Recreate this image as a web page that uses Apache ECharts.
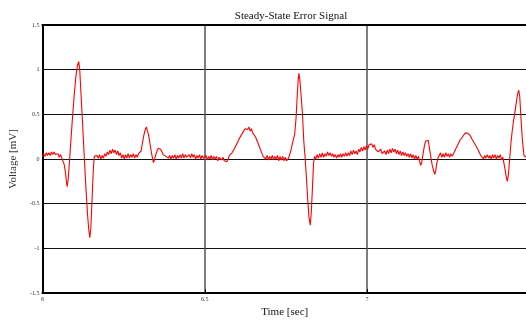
<!DOCTYPE html>
<html>
<head>
<meta charset="utf-8">
<script src="https://cdn.jsdelivr.net/npm/echarts@6/dist/echarts.min.js"></script>
<style>
html,body{margin:0;padding:0;background:#fff;overflow:hidden;width:526px;height:323px;}
#chart{width:530px;height:323px;}
</style>
</head>
<body>
<div id="chart"></div>
<script>
var titleText = 'Steady-State Error Signal';
var xName = 'Time [sec]';
var yName = 'Voltage [mV]';
var xTicks = [6, 6.5, 7];
var yTicks = [-1.5, -1, -0.5, 0, 0.5, 1, 1.5];

var times = [
6.000,6.004,6.008,6.012,6.016,6.020,6.024,6.028,6.032,6.036,6.040,6.044,6.048,6.052,6.056,6.060,6.063,
6.067,6.071,6.074,6.076,6.079,6.083,6.088,6.093,6.098,6.103,6.108,6.112,6.115,6.119,6.124,6.129,6.134,6.139,6.143,6.146,6.149,6.153,6.157,6.160,
6.164,6.168,6.172,6.176,6.180,6.184,6.188,6.192,6.196,6.200,6.204,6.208,6.212,6.216,6.220,6.224,6.228,6.232,6.236,6.240,6.244,6.248,6.252,6.256,6.260,6.264,6.268,6.272,6.276,6.280,6.284,6.288,6.292,6.296,6.300,
6.304,6.308,6.312,6.316,6.320,6.323,6.327,6.331,6.335,6.339,6.342,6.345,6.349,6.353,6.357,6.361,6.364,6.368,6.372,6.376,6.380,6.384,
6.388,6.392,6.396,6.400,6.404,6.408,6.412,6.416,6.420,6.424,6.428,6.432,6.436,6.440,6.444,6.448,6.452,6.456,6.460,6.464,6.468,6.472,6.476,6.480,6.484,6.488,6.492,6.496,6.500,6.504,6.508,6.512,6.516,6.520,6.524,6.528,6.532,6.536,6.540,6.544,6.548,6.552,6.556,6.560,6.564,6.568,
6.572,6.576,6.580,6.584,6.588,6.592,6.596,6.600,6.604,6.608,6.612,6.616,6.620,6.624,6.628,6.632,6.636,6.640,6.644,6.648,6.652,6.656,6.660,6.664,6.668,6.672,6.676,6.680,6.684,
6.688,6.692,6.696,6.700,6.704,6.708,6.712,6.716,6.720,6.724,6.728,6.732,6.736,6.740,6.744,6.748,6.752,6.755,6.758,6.761,
6.765,6.769,6.773,6.777,6.781,6.785,6.788,6.790,6.793,6.797,6.801,6.805,6.809,6.813,6.817,6.821,6.825,6.828,6.832,6.835,6.838,
6.842,6.846,6.850,6.854,6.858,6.862,6.866,6.870,6.874,6.878,6.882,6.886,6.890,6.894,6.898,6.902,6.906,6.910,6.914,6.918,6.922,6.926,6.930,6.934,6.938,6.942,6.946,6.950,6.954,6.958,6.962,6.966,6.970,6.974,6.978,6.982,6.986,6.990,6.994,6.998,
7.002,7.006,7.010,7.014,7.018,7.022,7.026,7.030,7.034,7.038,7.042,7.046,7.050,7.054,7.058,7.062,7.066,7.070,7.074,7.078,7.082,7.086,7.090,7.094,7.098,7.102,7.106,7.110,7.114,7.118,7.122,7.126,7.130,7.134,7.138,7.142,7.146,7.150,7.154,7.158,7.162,7.165,
7.168,7.172,7.176,7.180,7.184,7.188,7.192,7.196,7.200,7.204,7.208,7.211,7.214,7.218,7.222,
7.226,7.230,7.234,7.238,7.242,7.246,7.250,7.254,7.258,7.262,7.266,
7.270,7.274,7.278,7.282,7.286,7.290,7.294,7.298,7.302,7.306,7.310,7.314,7.318,7.322,7.326,7.330,7.334,7.338,7.342,7.346,7.350,7.354,
7.358,7.362,7.366,7.370,7.374,7.378,7.382,7.386,7.390,7.394,7.398,7.402,7.406,7.410,7.414,7.418,
7.422,7.426,7.429,7.432,7.435,7.439,7.443,7.447,7.451,7.455,7.459,7.463,7.467,7.470,7.474,7.478,7.483,7.490
];

var volts = [
0.03,0.06,0.03,0.07,0.04,0.07,0.04,0.08,0.05,0.08,0.05,0.03,0.06,0.02,0.05,0.01,0.00,
-0.06,-0.15,-0.25,-0.31,-0.24,-0.05,0.22,0.48,0.72,0.92,1.05,1.09,1.00,0.72,0.38,0.02,-0.32,-0.62,-0.80,-0.88,-0.78,-0.45,-0.10,0.03,
0.01,0.04,0.01,0.05,0.00,0.04,0.01,0.06,0.03,0.08,0.05,0.10,0.06,0.11,0.07,0.10,0.05,0.09,0.04,0.07,0.01,0.05,0.00,0.05,0.01,0.06,0.01,0.05,0.02,0.06,0.01,0.05,0.02,0.06,0.04,
0.09,0.18,0.26,0.32,0.36,0.34,0.27,0.18,0.09,0.01,-0.04,-0.01,0.05,0.09,0.12,0.14,0.11,0.09,0.05,0.06,0.03,0.04,
0.01,0.04,0.00,0.04,0.01,0.05,0.00,0.04,0.01,0.05,0.01,0.06,0.01,0.05,0.02,0.00,0.05,0.01,0.06,0.02,0.05,0.00,0.04,0.01,0.05,0.00,0.04,0.01,0.00,0.04,-0.01,0.03,0.00,0.04,-0.01,0.03,0.00,0.03,-0.02,0.02,0.03,-0.01,0.02,-0.02,-0.01,-0.03,
0.00,0.04,0.04,0.07,0.08,0.12,0.14,0.18,0.20,0.24,0.25,0.29,0.30,0.34,0.36,0.33,0.36,0.31,0.34,0.29,0.30,0.25,0.25,0.18,0.17,0.10,0.09,0.03,0.04,
0.00,0.04,-0.01,0.03,0.00,0.04,-0.01,0.03,0.00,0.04,-0.02,0.03,-0.01,0.03,-0.02,0.02,-0.02,-0.03,0.01,0.03,
0.09,0.16,0.22,0.28,0.45,0.72,0.90,0.96,0.88,0.70,0.50,0.20,0.02,-0.20,-0.45,-0.65,-0.74,-0.60,-0.30,-0.05,0.03,
0.00,0.05,0.01,0.06,0.02,0.07,0.02,0.06,0.03,0.08,0.04,0.07,0.03,0.06,0.02,0.05,0.01,0.05,0.02,0.06,0.02,0.06,0.03,0.07,0.03,0.07,0.04,0.09,0.05,0.10,0.06,0.09,0.05,0.11,0.08,0.13,0.09,0.14,0.10,0.15,
0.11,0.16,0.17,0.17,0.13,0.16,0.11,0.12,0.08,0.09,0.11,0.06,0.07,0.09,0.05,0.10,0.06,0.11,0.07,0.12,0.08,0.11,0.06,0.10,0.05,0.09,0.04,0.08,0.04,0.07,0.03,0.06,0.02,0.06,0.01,0.05,0.00,0.04,0.00,0.03,-0.03,-0.07,
-0.04,0.05,0.14,0.20,0.22,0.21,0.12,0.03,-0.06,-0.12,-0.17,-0.14,-0.06,0.01,0.04,
0.07,0.02,0.06,0.02,0.07,0.03,0.06,0.02,0.06,0.03,0.06,
0.09,0.12,0.15,0.17,0.21,0.22,0.25,0.26,0.29,0.31,0.29,0.27,0.26,0.23,0.21,0.18,0.16,0.13,0.10,0.07,0.04,0.03,
0.00,0.04,0.01,0.05,0.01,0.04,0.00,0.05,0.01,0.05,0.00,0.04,0.01,0.05,-0.01,0.02,
-0.06,-0.14,-0.21,-0.25,-0.18,0.00,0.18,0.32,0.43,0.52,0.62,0.72,0.77,0.70,0.45,0.22,0.04,0.02
];

var seriesData = [];
for (var i = 0; i < times.length; i++) seriesData.push([times[i], volts[i]]);

var serif = '"Liberation Serif", "DejaVu Serif", serif';
var xMax = 7.4924;
var chart = echarts.init(document.getElementById('chart'), null, {renderer: 'canvas'});
chart.setOption({
  animation: false,
  backgroundColor: '#ffffff',
  title: {
    text: titleText,
    left: 286, top: 6, textAlign: 'center',
    textStyle: {fontFamily: serif, fontSize: 11, fontWeight: 'normal', color: '#111'}
  },
  grid: {left: 41, right: 1, top: 25, bottom: 26, show: false},
  xAxis: [{
    type: 'value', min: xTicks[0], max: xMax, interval: 0.5, position: 'bottom',
    name: xName, nameLocation: 'middle', nameGap: 10,
    nameTextStyle: {fontFamily: serif, fontSize: 11, color: '#111'},
    axisLine: {show: true, onZero: false, lineStyle: {color: '#000', width: 2}},
    axisTick: {show: true, inside: true, length: 4, lineStyle: {color: '#000', width: 1}},
    axisLabel: {
      fontFamily: serif, fontSize: 6, color: '#333', margin: 3,
      formatter: function (v) {
        for (var k = 0; k < xTicks.length; k++) if (Math.abs(v - xTicks[k]) < 1e-6) return String(xTicks[k]);
        return '';
      }
    },
    splitLine: {show: true, lineStyle: {color: '#555', width: 1.5}}
  }, {
    type: 'value', min: xTicks[0], max: xMax, interval: 0.5, position: 'top',
    axisLine: {show: true, onZero: false, lineStyle: {color: '#000', width: 2}},
    axisTick: {show: false}, axisLabel: {show: false}, splitLine: {show: false}
  }],
  yAxis: {
    type: 'value', min: yTicks[0], max: yTicks[yTicks.length - 1], interval: 0.5,
    name: yName, nameLocation: 'middle', nameGap: 18, nameRotate: 90,
    nameTextStyle: {fontFamily: serif, fontSize: 11, color: '#333'},
    axisLine: {show: true, onZero: false, lineStyle: {color: '#000', width: 2}},
    axisTick: {show: true, inside: true, length: 4, lineStyle: {color: '#000', width: 1}},
    axisLabel: {fontFamily: serif, fontSize: 6, color: '#333', margin: 3},
    splitLine: {show: true, lineStyle: {color: '#111', width: 1.2}}
  },
  series: [{
    type: 'line',
    xAxisIndex: 0,
    data: seriesData,
    showSymbol: false,
    smooth: false,
    lineStyle: {color: '#ff0000', width: 1.1},
    z: 5
  }]
});
</script>
</body>
</html>
